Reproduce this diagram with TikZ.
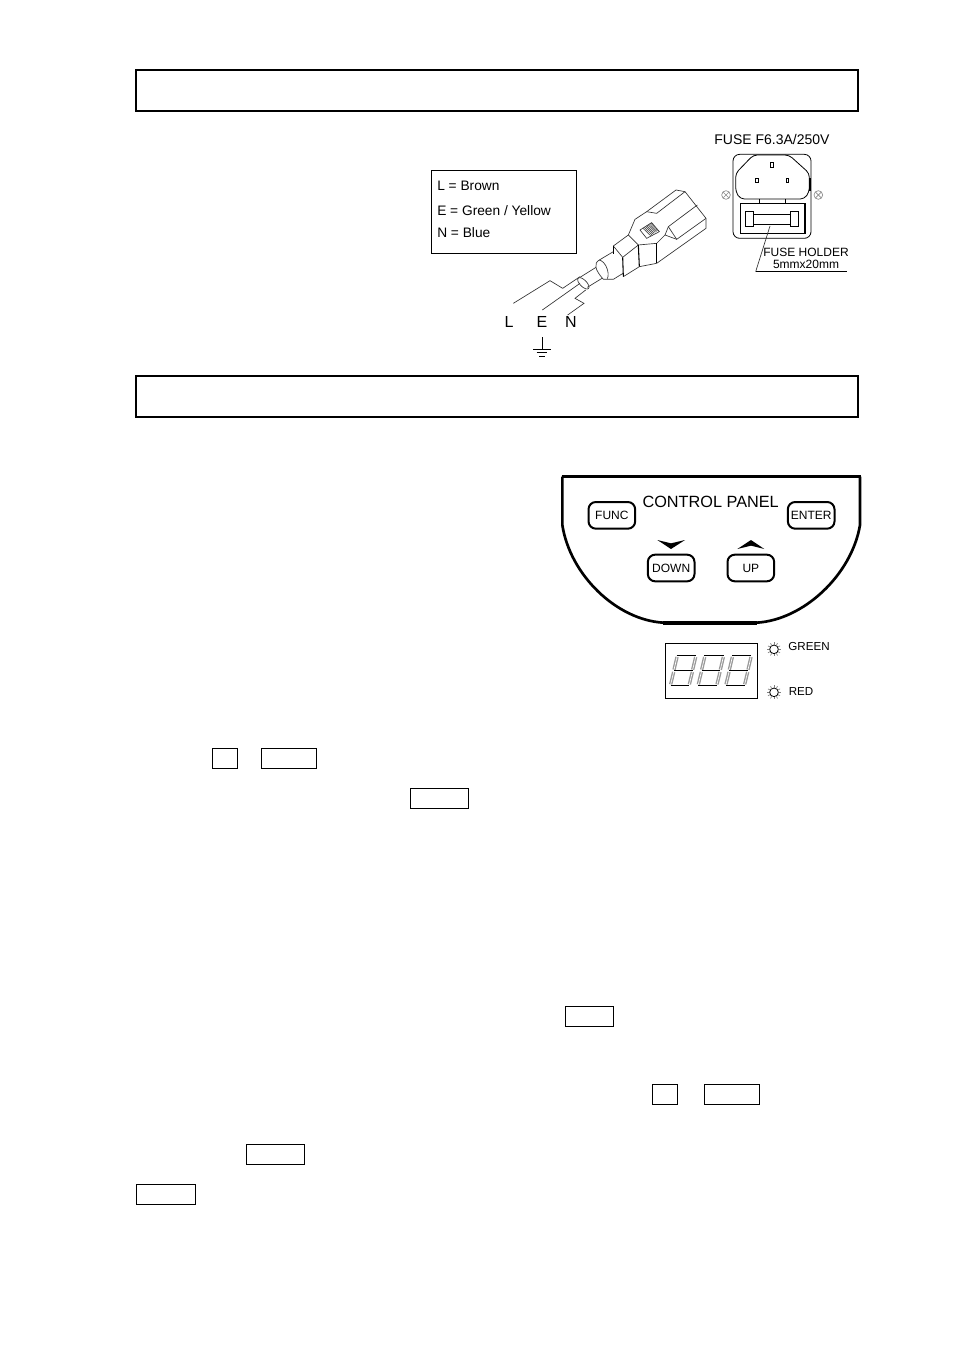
\documentclass[tikz,border=0pt]{standalone}
\usepackage{fontspec}
\setmainfont{Liberation Sans}
\tikzset{
    headbox/.style={line width=2pt},
    keybox/.style={line width=0.7pt},
    thinline/.style={line width=0.5pt, black!80},
    zoomed/.style={x=0.25pt, y=-0.25pt},
    panelbtn/.style={draw, line width=1.5pt, rounded corners=5.5pt, minimum width=35pt, minimum height=20pt, inner sep=0pt, font=\fontsize{9}{10}\selectfont},
    smalllabel/.style={inner sep=0pt, font=\fontsize{8.7}{10}\selectfont},
    wirelabel/.style={inner sep=0pt, font=\fontsize{12}{14}\selectfont},
    legendlabel/.style={inner sep=0pt, font=\fontsize{10.3}{12}\selectfont},
    fuselabel/.style={inner sep=0pt, font=\fontsize{9}{10}\selectfont}
}
\begin{document}
\begin{tikzpicture}[x=0.75pt, y=-0.75pt]
    \useasboundingbox (0,0) rectangle (954,1351);

    % section bars
    \draw [headbox] (136,70) rectangle (858,111);
    \draw [headbox] (136,376) rectangle (858,417);

    % colour legend
    \draw [line width=0.7pt] (431,170) rectangle (576,253);
    \node [legendlabel, anchor=west] (brown) at (437,186) {L = Brown};
    \node [legendlabel, anchor=west] (green) at (437,210.5) {E = Green / Yellow};
    \node [legendlabel, anchor=west] (blue) at (437,233) {N = Blue};

    % mains plug
    \begin{scope}[shift={(500,180)}, zoomed]
        \draw [thinline] (405,118) -- (440,95) -- (528,30) -- (555,35) -- (618,115) -- (618,145) -- (470,250);
        \draw [thinline] (440,95) -- (470,100) -- (555,35);
        \draw [thinline] (505,140) -- (592,75);
        \draw [thinline] (505,140) -- (530,178) -- (618,115);
        \draw [thinline] (505,140) -- (495,165) -- (530,178);
        \draw [thinline] (405,118) -- (385,165) -- (415,195) -- (470,190) -- (495,165);
        \draw [thinline] (418,260) -- (470,250);
        \draw [thinline] (340,198) -- (385,165);
        \draw [thinline] (368,232) -- (415,195);
        \draw [thinline] (340,198) -- (368,232);
        \draw [thinline] (370,290) -- (418,260);
        \draw [line width=0.8pt] (340,198) -- (340,222);
        \draw [line width=0.8pt] (368,232) -- (370,290);
        \draw [line width=0.8pt] (415,195) -- (418,260);
        \draw [line width=0.8pt] (470,190) -- (470,250);
        % grip
        \draw [thinline, fill=white] (420,150) -- (455,128) -- (478,155) -- (440,175) -- cycle;
        \foreach \i in {0,1,2,3,4,5,6}
            \draw [line width=0.5pt, black!70] (428+\i*4,144-\i*2.5) -- (452+\i*3.6,167-\i*2.6);
        % strain relief and cable
        \draw [thinline] (340,215) -- (298,240) .. controls (280,250) and (285,270) .. (310,298) -- (340,298) -- (369,280);
        \draw [thinline] (298,240) .. controls (318,245) and (330,280) .. (322,296);
        \draw [thinline] (288,262) -- (240,292);
        \draw [thinline] (306,295) -- (262,322);
        \draw [thinline, rotate around={45:(250,310)}] (250,310) ellipse (10 and 22);
        % wires
        \draw [thinline] (240,290) -- (188,325) -- (150,302) -- (40,370);
        \draw [thinline] (240,310) -- (127,390);
        \draw [thinline] (257,330) -- (225,355) -- (252,370) -- (203,405);
    \end{scope}

    \node [wirelabel] (wirel) at (509,321.5) {L};
    \node [wirelabel] (wiree) at (542,322) {E};
    \node [wirelabel] (wiren) at (571,321.5) {N};

    % earth symbol
    \begin{scope}[shift={(420,120)}, zoomed]
        \draw [line width=0.6pt] (366,652) -- (366,687);
        \draw [line width=0.6pt] (340,687) -- (392,687);
        \draw [line width=0.6pt] (350,698) -- (382,698);
        \draw [line width=0.6pt] (358,708) -- (375,708);
    \end{scope}

    % power inlet
    \node [inner sep=0pt, font=\fontsize{10.5}{12}\selectfont] (fusetitle) at (772,140) {FUSE F6.3A/250V};
    \begin{scope}[shift={(715,150)}, zoomed]
        \draw [line width=0.6pt, rounded corners=5pt] (54,13) rectangle (288,265);
        \draw [line width=0.6pt, rounded corners=3pt] (62,125) -- (62,70) -- (115,15) -- (222,15) -- (283,70) -- (283,125) -- (268,147) -- (76,147) -- cycle;
        \draw [line width=1pt] (285,85) -- (285,122);
        \draw [line width=0.6pt] (166,37) rectangle (174,51);
        \draw [line width=0.6pt] (122,84) rectangle (130,97);
        \draw [line width=0.6pt] (213,84) rectangle (221,97);
        \draw [line width=0.6pt] (133,147) -- (133,160);
        \draw [line width=0.6pt] (212,147) -- (212,160);
        \draw [line width=0.8pt] (77,160) rectangle (270,250);
        \draw [line width=0.7pt] (92,185) rectangle (115,228);
        \draw [line width=0.7pt] (226,185) rectangle (250,228);
        \draw [line width=0.7pt] (115,193) rectangle (226,222);
        \draw [thinline] (165,228) -- (122,365);
        \draw [line width=0.7pt] (122,365) -- (397,365);
        % screws
        \foreach \sx in {33,310} {
            \draw [thinline, black!45] (\sx,135) circle (13);
            \draw [thinline, black!45] (\sx-9,126) -- (\sx+9,144);
            \draw [thinline, black!45] (\sx-9,144) -- (\sx+9,126);
        }
    \end{scope}
    \node [fuselabel] (holder) at (806,252.5) {FUSE HOLDER};
    \node [fuselabel] (holdersize) at (806,264) {5mmx20mm};

    % control panel
    \begin{scope}[shift={(550,465)}, zoomed]
        \draw [line width=2pt] (37,35) -- (37,180) .. controls (60,330) and (200,465) .. (340,473);
        \draw [line width=2pt] (930,35) -- (930,180) .. controls (905,330) and (760,465) .. (620,473);
        \draw [line width=2.6pt] (35,35) -- (932,35);
        \draw [line width=3pt] (340,473) -- (620,473);
        \fill (322,225) -- (363,235) -- (405,225) -- (363,252) -- cycle;
        \fill (562,252) -- (603,225) -- (643,252) -- (603,242) -- cycle;
        \node [panelbtn] (func) at (185.5,151) {FUNC};
        \node [panelbtn] (enter) at (783.5,151) {ENTER};
        \node [panelbtn] (down) at (363.5,309) {DOWN};
        \node [panelbtn] (up) at (602.5,309) {UP};
        \node [inner sep=0pt, font=\fontsize{12.2}{14}\selectfont] (paneltitle) at (482,111) {CONTROL PANEL};
        % display
        \draw [line width=0.7pt] (346,535) rectangle (622,700);
        \foreach \dx in {0,83,166} {
            \draw [black!40, line width=1pt, double=white, double distance=0.5pt] (381+\dx,576) -- (372+\dx,614);
            \draw [black!40, line width=1pt, double=white, double distance=0.5pt] (371+\dx,621) -- (362+\dx,658);
            \draw [black!40, line width=1pt, double=white, double distance=0.5pt] (437+\dx,576) -- (428+\dx,614);
            \draw [black!40, line width=1pt, double=white, double distance=0.5pt] (427+\dx,621) -- (418+\dx,658);
            \draw [line width=1.2pt] (380+\dx,572) -- (438+\dx,572);
            \draw [line width=1.2pt] (372+\dx,617) -- (428+\dx,617);
            \draw [line width=1.2pt] (362+\dx,662) -- (418+\dx,662);
        }
        % lamps
        \foreach \ly in {553,682} {
            \draw [line width=0.6pt] (672,\ly) circle (13);
            \foreach \a in {0,30,...,330}
                \draw [black!50, line width=0.5pt] (672,\ly) ++(\a:14) -- ++(\a:7);
        }
        \node [smalllabel] (greenlamp) at (777,546) {GREEN};
        \node [smalllabel] (redlamp) at (753,680) {RED};
    \end{scope}

    % key boxes in the text
    \draw [keybox] (212,748) rectangle (237,768);
    \draw [keybox] (261,748) rectangle (316,768);
    \draw [keybox] (410,788) rectangle (468,808);
    \draw [keybox] (565,1006) rectangle (613,1026);
    \draw [keybox] (652,1084) rectangle (677,1104);
    \draw [keybox] (704,1084) rectangle (759,1104);
    \draw [keybox] (246,1144) rectangle (304,1164);
    \draw [keybox] (136,1184) rectangle (195,1204);
\end{tikzpicture}
\end{document}
